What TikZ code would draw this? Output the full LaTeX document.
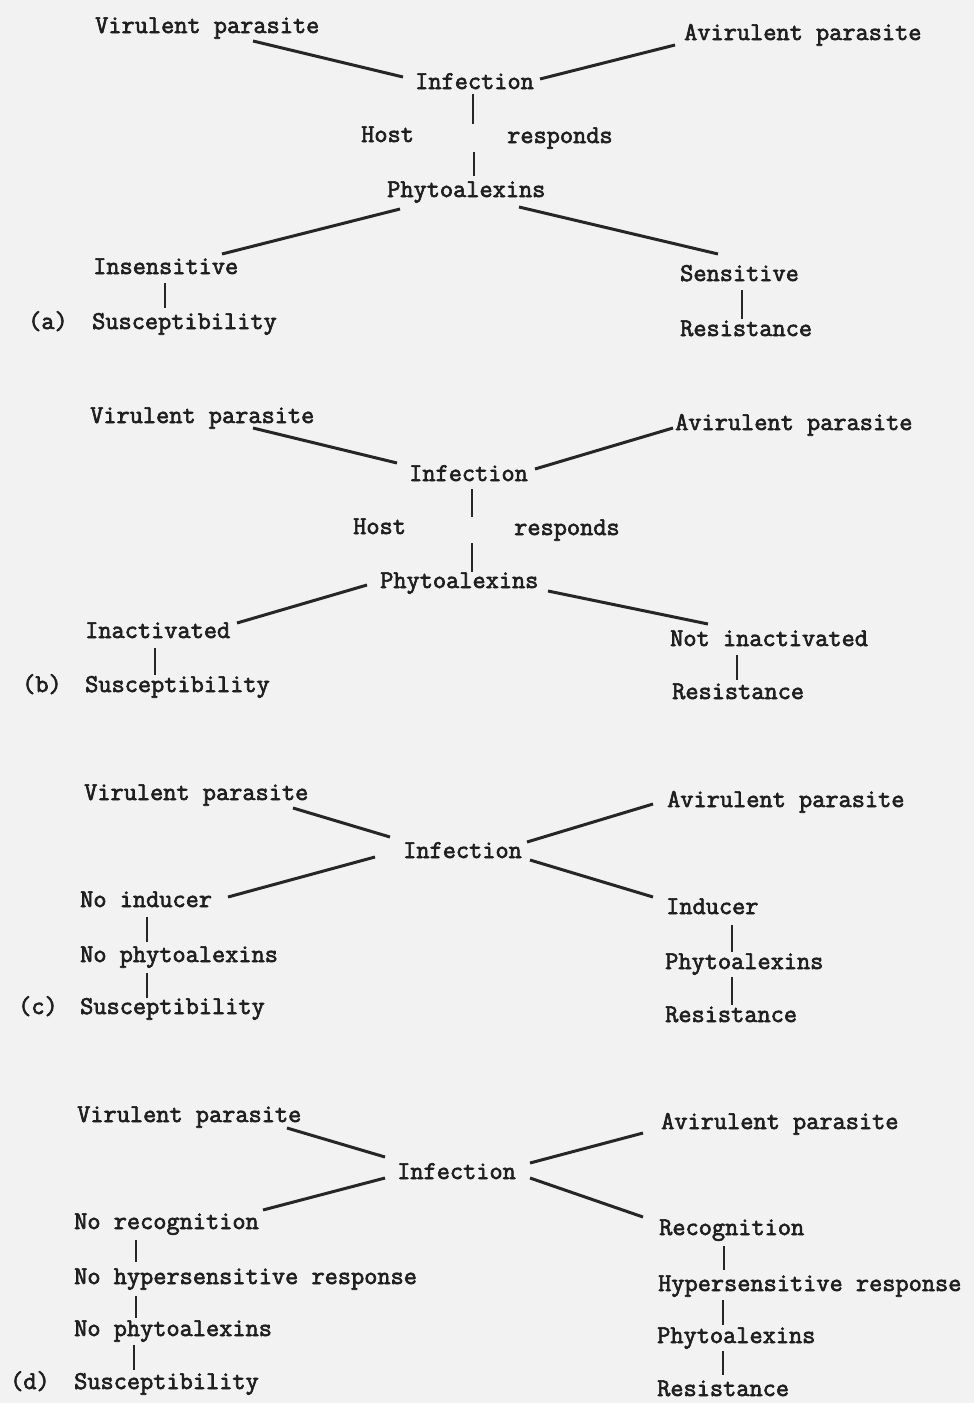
\documentclass[tikz,border=0pt]{standalone}
\usepackage{fontspec}
\newfontfamily\tw[FakeBold=2.5]{Latin Modern Mono}
\begin{document}
\begin{tikzpicture}[x=1pt,y=-1pt,
  lbl/.style={anchor=base west,inner sep=0pt,font=\tw\fontsize{25.6}{25}\selectfont,text=black!88},
  con/.style={line width=3pt,draw=black!85},
  vcon/.style={line width=2.7pt,draw=black!85}]
\fill[black!5] (0,0) rectangle (974,1403);
\useasboundingbox (0,0) rectangle (974,1403);
% ---------------- (a)
\node[lbl] (aV) at (95,33) {Virulent parasite};
\node[lbl] (aA) at (684,40) {Avirulent parasite};
\node[lbl] (aI) at (415,89) {Infection};
\node[lbl] (aH) at (361,142) {Host};
\node[lbl] (aR) at (507,143) {responds};
\node[lbl] (aP) at (387,197) {Phytoalexins};
\node[lbl] (aIns) at (93,274) {Insensitive};
\node[lbl] (aLab) at (28,329) {(a)};
\node[lbl] (aS) at (92,329) {Susceptibility};
\node[lbl] (aSen) at (680,281) {Sensitive};
\node[lbl] (aRes) at (680,336) {Resistance};
\draw[con] ([shift={(158,8)}]aV.base west) -- ([shift={(-12,-12)}]aI.base west);
\draw[con] ([shift={(-9,5)}]aA.base west) -- ([shift={(125,-10)}]aI.base west);
\draw[vcon] ([shift={(58,5)}]aI.base west) -- ([shift={(58,35)}]aI.base west);
\draw[vcon] ([shift={(87,-45)}]aP.base west) -- ([shift={(87,-21)}]aP.base west);
\draw[con] ([shift={(13,12)}]aP.base west) -- ([shift={(129,-20)}]aIns.base west);
\draw[con] ([shift={(132,10)}]aP.base west) -- ([shift={(38,-27)}]aSen.base west);
\draw[vcon] ([shift={(72,9)}]aIns.base west) -- ([shift={(73,-21)}]aS.base west);
\draw[vcon] ([shift={(62,9)}]aSen.base west) -- ([shift={(62,-17)}]aRes.base west);
% ---------------- (b)
\node[lbl] (bV) at (90,423) {Virulent parasite};
\node[lbl] (bA) at (675,430) {Avirulent parasite};
\node[lbl] (bI) at (409,481) {Infection};
\node[lbl] (bH) at (353,534) {Host};
\node[lbl] (bR) at (514,535) {responds};
\node[lbl] (bP) at (380,588) {Phytoalexins};
\node[lbl] (bIna) at (85,638) {Inactivated};
\node[lbl] (bLab) at (22,692) {(b)};
\node[lbl] (bS) at (85,692) {Susceptibility};
\node[lbl] (bNot) at (670,646) {Not inactivated};
\node[lbl] (bRes) at (672,699) {Resistance};
\draw[con] ([shift={(163,5)}]bV.base west) -- ([shift={(-12,-18)}]bI.base west);
\draw[con] ([shift={(-2,-2)}]bA.base west) -- ([shift={(126,-12)}]bI.base west);
\draw[vcon] ([shift={(63,8)}]bI.base west) -- ([shift={(63,36)}]bI.base west);
\draw[vcon] ([shift={(92,-45)}]bP.base west) -- ([shift={(92,-16)}]bP.base west);
\draw[con] ([shift={(-13,-3)}]bP.base west) -- ([shift={(152,-15)}]bIna.base west);
\draw[con] ([shift={(168,3)}]bP.base west) -- ([shift={(38,-22)}]bNot.base west);
\draw[vcon] ([shift={(70,10)}]bIna.base west) -- ([shift={(70,-17)}]bS.base west);
\draw[vcon] ([shift={(67,9)}]bNot.base west) -- ([shift={(65,-19)}]bRes.base west);
% ---------------- (c)
\node[lbl] (cV) at (84,800) {Virulent parasite};
\node[lbl] (cA) at (667,807) {Avirulent parasite};
\node[lbl] (cI) at (403,858) {Infection};
\node[lbl] (cNI) at (80,907) {No inducer};
\node[lbl] (cNP) at (80,962) {No phytoalexins};
\node[lbl] (cLab) at (18,1014) {(c)};
\node[lbl] (cS) at (80,1014) {Susceptibility};
\node[lbl] (cInd) at (666,914) {Inducer};
\node[lbl] (cP) at (665,969) {Phytoalexins};
\node[lbl] (cRes) at (665,1022) {Resistance};
\draw[con] ([shift={(209,8)}]cV.base west) -- ([shift={(-13,-21)}]cI.base west);
\draw[con] ([shift={(-14,-3)}]cA.base west) -- ([shift={(124,-16)}]cI.base west);
\draw[con] ([shift={(-28,-1)}]cI.base west) -- ([shift={(148,-10)}]cNI.base west);
\draw[con] ([shift={(127,2)}]cI.base west) -- ([shift={(-13,-17)}]cInd.base west);
\draw[vcon] ([shift={(67,10)}]cNI.base west) -- ([shift={(67,-20)}]cNP.base west);
\draw[vcon] ([shift={(67,11)}]cNP.base west) -- ([shift={(67,-16)}]cS.base west);
\draw[vcon] ([shift={(66,11)}]cInd.base west) -- ([shift={(67,-17)}]cP.base west);
\draw[vcon] ([shift={(67,8)}]cP.base west) -- ([shift={(67,-17)}]cRes.base west);
% ---------------- (d)
\node[lbl] (dV) at (77,1122) {Virulent parasite};
\node[lbl] (dA) at (661,1129) {Avirulent parasite};
\node[lbl] (dI) at (397,1179) {Infection};
\node[lbl] (dNR) at (74,1229) {No recognition};
\node[lbl] (dNH) at (74,1284) {No hypersensitive response};
\node[lbl] (dNP) at (74,1336) {No phytoalexins};
\node[lbl] (dLab) at (10,1389) {(d)};
\node[lbl] (dS) at (74,1389) {Susceptibility};
\node[lbl] (dRec) at (659,1235) {Recognition};
\node[lbl] (dH) at (658,1291) {Hypersensitive response};
\node[lbl] (dP) at (657,1343) {Phytoalexins};
\node[lbl] (dRes) at (657,1396) {Resistance};
\draw[con] ([shift={(210,6)}]dV.base west) -- ([shift={(-12,-22)}]dI.base west);
\draw[con] ([shift={(-18,4)}]dA.base west) -- ([shift={(133,-16)}]dI.base west);
\draw[con] ([shift={(-12,-1)}]dI.base west) -- ([shift={(189,-19)}]dNR.base west);
\draw[con] ([shift={(133,-1)}]dI.base west) -- ([shift={(-16,-18)}]dRec.base west);
\draw[vcon] ([shift={(62,11)}]dNR.base west) -- ([shift={(62,-22)}]dNH.base west);
\draw[vcon] ([shift={(62,12)}]dNH.base west) -- ([shift={(62,-18)}]dNP.base west);
\draw[vcon] ([shift={(60,9)}]dNP.base west) -- ([shift={(60,-19)}]dS.base west);
\draw[vcon] ([shift={(65,11)}]dRec.base west) -- ([shift={(66,-21)}]dH.base west);
\draw[vcon] ([shift={(65,9)}]dH.base west) -- ([shift={(66,-18)}]dP.base west);
\draw[vcon] ([shift={(66,8)}]dP.base west) -- ([shift={(66,-21)}]dRes.base west);
\end{tikzpicture}
\end{document}
